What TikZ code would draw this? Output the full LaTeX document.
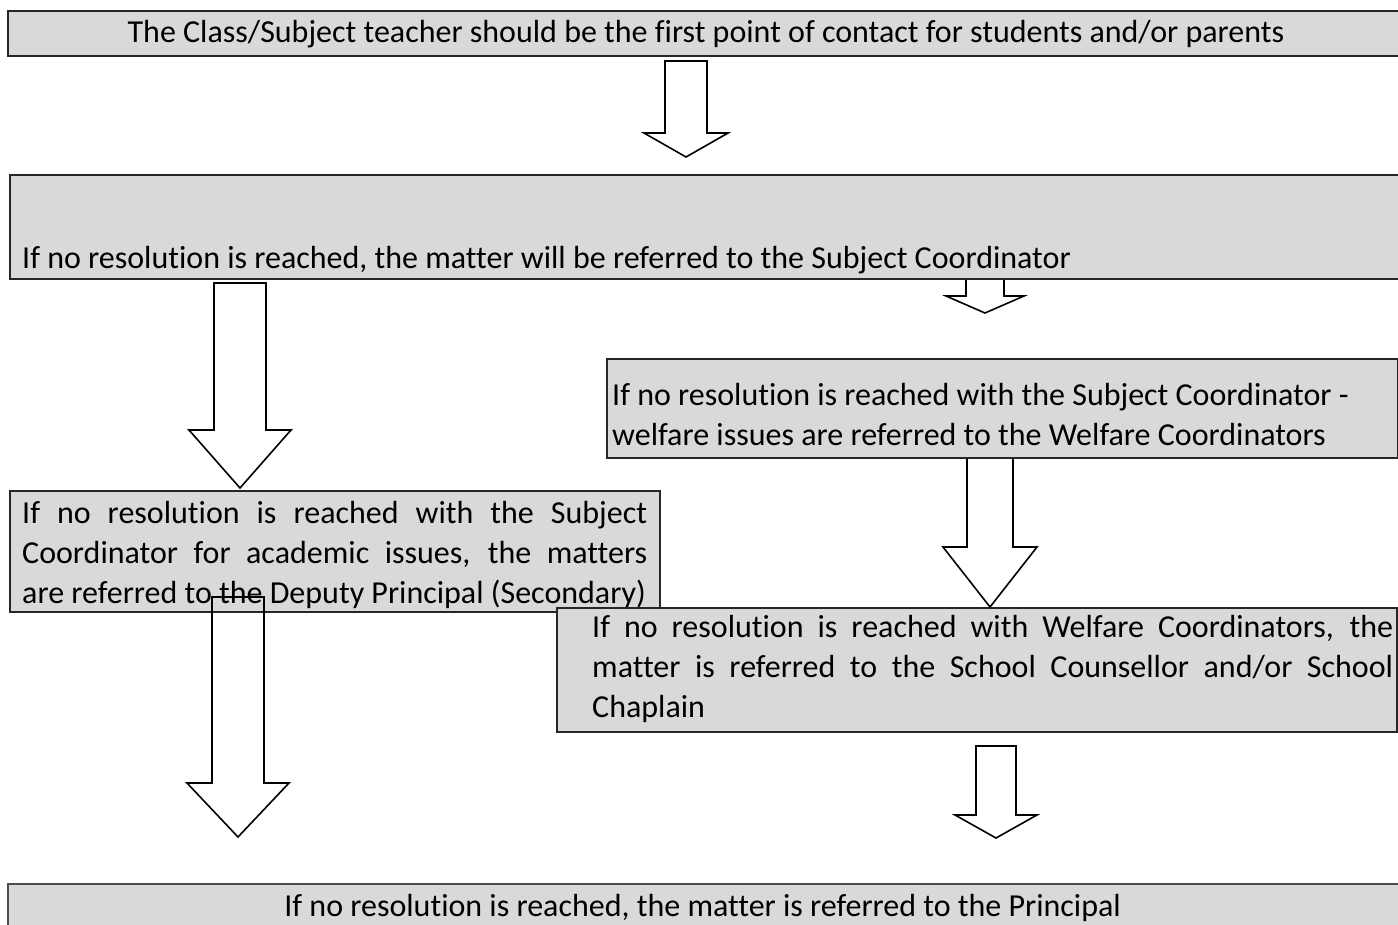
\documentclass[tikz,border=0pt]{standalone}
\usepackage{fontspec}
\setmainfont{Carlito}[Ligatures=NoCommon]
\definecolor{boxgray}{HTML}{D9D9D9}
\tikzset{
  box/.style={rectangle, draw=black!85, fill=boxgray, line width=1.6pt, inner sep=0pt, anchor=north west},
  txt/.style={inner sep=0pt, font=\fontsize{32}{40}\selectfont, text=black},
  barrow/.style={draw=black, fill=white, line width=1.6pt, line join=miter},
}
\newcommand\blockarr[7][]{\draw[barrow,#1] ({#2-#6},#3) -- ({#2+#6},#3) -- ({#2+#6},#4) -- ({#2+#7},#4) -- (#2,#5) -- ({#2-#7},#4) -- ({#2-#6},#4) -- cycle;}
\newcommand\jline[2]{\hbox{\makebox[#1][s]{#2}}}
\begin{document}
\begin{tikzpicture}[x=1pt,y=-1pt]
\useasboundingbox (0,0) rectangle (1398,924);
\fill[white] (0,0) rectangle (1398,924);
% arrows behind boxes
\blockarr{686}{61}{133}{157}{21}{42}
\blockarr{985}{270}{296}{313}{19}{39}
% box 1
\node[box, minimum width=1400pt, minimum height=45pt] (b1) at (7,10) {};
\node[txt, anchor=base] (t1) at (706,42) {The Class/Subject teacher should be the first point of contact for students and/or parents};
% box 2
\node[box, minimum width=1400pt, minimum height=104pt] (b2) at (9,174) {};
\node[txt, anchor=base west] (t2) at (22,268) {If no resolution is reached, the matter will be referred to the Subject Coordinator};
% left branch
\blockarr{240}{283}{430}{488}{26}{51}
\node[box, minimum width=650pt, minimum height=121pt] (b3) at (9,490) {};
\node[txt, anchor=base west] (t3) at (22,523) {\vtop{\baselineskip=40pt
  \jline{625pt}{If no resolution is reached with the Subject}
  \jline{625pt}{Coordinator for academic issues, the matters}
  \hbox{are referred to the Deputy Principal (Secondary)}}};
\blockarr[fill=none]{238}{597}{783}{837}{26}{51}
% right branch
\blockarr{990}{450}{547}{607}{23}{47}
\node[box, minimum width=791pt, minimum height=99pt] (b4) at (606,358) {};
\node[txt, anchor=base west] (t4) at (612,405) {\vtop{\baselineskip=40pt
  \hbox{If no resolution is reached with the Subject Coordinator -}
  \hbox{welfare issues are referred to the Welfare Coordinators}}};
\node[box, minimum width=840pt, minimum height=124pt] (b5) at (556,607) {};
\node[txt, anchor=base west] (t5) at (592,637) {\vtop{\baselineskip=40pt
  \jline{801pt}{If no resolution is reached with Welfare Coordinators, the}
  \jline{801pt}{matter is referred to the School Counsellor and/or School}
  \hbox{Chaplain}}};
\blockarr{996}{746}{815}{838}{20}{41}
% bottom box
\node[box, draw=black!70, minimum width=1450pt, minimum height=80pt] (b6) at (7,883) {};
\node[txt, anchor=base east] (t6) at (1121,916) {If no resolution is reached, the matter is referred to the Principal};
\end{tikzpicture}
\end{document}
